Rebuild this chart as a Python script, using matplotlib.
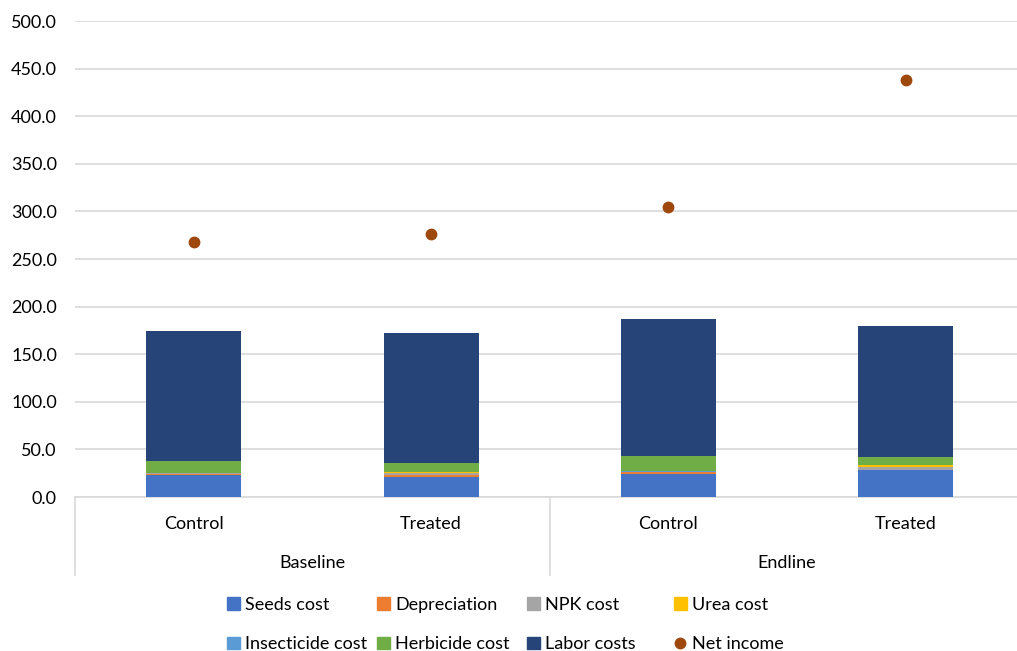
import numpy as np
import matplotlib
matplotlib.use("Agg")
import matplotlib.pyplot as plt
from matplotlib.lines import Line2D
from matplotlib.patches import Patch

plt.rcParams['font.family'] = ['Lato', 'DejaVu Sans']

groups = ["Baseline", "Endline"]
arms = ["Control", "Treated", "Control", "Treated"]

seeds = [22.8, 21.3, 24.1, 28.4]
depreciation = [1.5, 2.1, 2.0, 0.3]
npk = [1.0, 1.5, 0.5, 2.8]
urea = [0.2, 1.3, 0.0, 2.1]
insecticide = [0.2, 0.2, 0.2, 0.2]
herbicide = [11.8, 8.9, 16.2, 8.2]
labor = [136.9, 136.9, 144.0, 137.9]
net_income = [268.0, 276.3, 304.6, 438.0]

series = [
    ("Seeds cost", seeds, "#4472C4"),
    ("Depreciation", depreciation, "#ED7D31"),
    ("NPK cost", npk, "#A5A5A5"),
    ("Urea cost", urea, "#FFC000"),
    ("Insecticide cost", insecticide, "#5B9BD5"),
    ("Herbicide cost", herbicide, "#70AD47"),
    ("Labor costs", labor, "#264478"),
]

FS = 13
W, H = 1017, 651
fig = plt.figure(figsize=(W / 100, H / 100), dpi=100)
ax = fig.add_axes([75 / W, 1 - 497 / H, 949.5 / W, 476 / H])

x = np.arange(len(arms))
bottom = np.zeros(len(arms))
for name, vals, col in series:
    ax.bar(x, vals, width=0.4, bottom=bottom, color=col, zorder=3)
    bottom += np.array(vals)

ax.plot(x, net_income, "o", color="#9E480E", ms=7.5, zorder=4, clip_on=False)

ax.set_xlim(-0.5, 3.5)
ax.set_ylim(0, 500)
ax.set_yticks(np.arange(0, 501, 50))
ax.set_yticklabels([f"{v:.1f}" for v in np.arange(0, 501, 50)], fontsize=FS)
ax.yaxis.grid(True, color="#D9D9D9", lw=1.2, zorder=0)
ax.tick_params(axis="y", length=0, pad=13)
ax.tick_params(axis="x", length=0)
ax.set_xticks([])
for s in ax.spines.values():
    s.set_visible(False)

# two-level category axis
px = 500 / 476
ax.plot([-0.5, 3.6], [0, 0], color="#D9D9D9", lw=1.2, clip_on=False, zorder=2)
for xv in [-0.5, 1.5]:
    ax.plot([xv, xv], [0, -78 * px], color="#D9D9D9", lw=1.2, clip_on=False)
for xi, lab in zip(x, arms):
    ax.text(xi, -27 * px, lab, ha="center", va="center", fontsize=FS)
for gi, g in enumerate(groups):
    ax.text(gi * 2 + 0.5, -66 * px, g, ha="center", va="center", fontsize=FS)

# legend: four equal-width columns, two rows
handles = [Patch(color=c, label=n) for n, _, c in series]
handles.append(Line2D([], [], marker="o", ls="", color="#9E480E", ms=7.5, label="Net income"))
col_x = [227, 377, 527, 674]
for ci, cx in enumerate(col_x):
    hs = [handles[ci], handles[ci + 4]]
    leg = fig.legend(hs, [h.get_label() for h in hs], loc="upper left",
                     bbox_to_anchor=(cx / W, 1 - 597 / H), frameon=False,
                     fontsize=FS, handlelength=0.7, handleheight=0.7,
                     handletextpad=0.3, labelspacing=1.3, borderpad=0,
                     borderaxespad=0)

fig.savefig("out.png", dpi=100)
